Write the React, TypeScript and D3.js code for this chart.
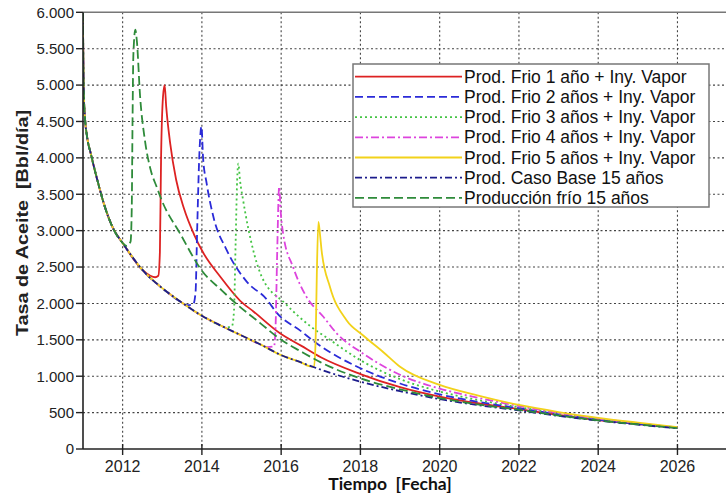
import React from 'react';
import * as d3 from 'd3';

type Pt = [number, number];

// Y axis ticks (Bbl/día) and their labels
const yTickValues = [0, 500, 1000, 1500, 2000, 2500, 3000, 3500, 4000, 4500, 5000, 5500, 6000];
const yTickLabels = ['0', '500', '1.000', '1.500', '2.000', '2.500', '3.000', '3.500', '4.000', '4.500', '5.000', '5.500', '6.000'];
// X axis ticks (years)
const xTickYears = [2012, 2014, 2016, 2018, 2020, 2022, 2024, 2026];

// Common early decline shared by every case (year, rate)
const commonDecline: Pt[] = [
  [2011.0, 6000], [2011.005, 5500], [2011.02, 4900], [2011.05, 4550], [2011.1, 4300],
  [2011.2, 4050], [2011.35, 3720], [2011.55, 3330], [2011.77, 3020], [2012.0, 2830],
  [2012.5, 2460], [2013.0, 2210],
  [2013.5, 2010], [2014.0, 1830], [2014.5, 1690], [2015.0, 1560], [2015.5, 1430],
  [2016.0, 1290], [2016.5, 1190], [2017.0, 1090], [2018.0, 925], [2019.0, 795],
  [2020.0, 685], [2021.0, 600], [2022.0, 530], [2023.0, 455], [2024.0, 390],
  [2025.0, 335], [2026.0, 285],
];

const frio1Tail: Pt[] = [
  [2012.7, 2380], [2012.82, 2360], [2012.9, 2380], [2012.94, 2700], [2012.97, 4000],
  [2013.02, 4850], [2013.06, 5000], [2013.1, 4700], [2013.2, 4200], [2013.35, 3700],
  [2013.55, 3300], [2013.8, 2950], [2014.03, 2700], [2014.46, 2370], [2014.96, 2040],
  [2015.3, 1890], [2015.97, 1590], [2016.5, 1420], [2017.0, 1260], [2018.0, 1030],
  [2019.0, 850], [2020.0, 720], [2021.0, 625], [2022.0, 548], [2023.0, 467],
  [2024.0, 397], [2025.0, 341], [2026.0, 289],
];

const frio2Tail: Pt[] = [
  [2013.62, 1975], [2013.78, 1985], [2013.84, 2150], [2013.88, 3000], [2013.94, 4100],
  [2013.99, 4430], [2014.03, 4000], [2014.12, 3650], [2014.29, 3190], [2014.62, 2740],
  [2015.13, 2300], [2015.63, 2060], [2015.89, 1870], [2016.5, 1620], [2016.9, 1450],
  [2018.0, 1110], [2019.0, 900], [2020.0, 750], [2021.0, 645], [2022.0, 560],
  [2023.0, 475], [2024.0, 402], [2025.0, 345], [2026.0, 290],
];

const frio3Tail: Pt[] = [
  [2014.62, 1670], [2014.76, 1690], [2014.81, 1900], [2014.85, 2800], [2014.89, 3700],
  [2014.92, 3920], [2014.96, 3700], [2015.04, 3420], [2015.3, 2720], [2015.5, 2380],
  [2016.1, 2000], [2016.73, 1690], [2017.23, 1500], [2018.0, 1220], [2019.0, 960],
  [2020.0, 790], [2021.0, 670], [2022.0, 575], [2023.0, 485], [2024.0, 410],
  [2025.0, 350], [2026.0, 292],
];

const frio4Tail: Pt[] = [
  [2015.65, 1400], [2015.82, 1410], [2015.86, 1700], [2015.9, 2700], [2015.95, 3600],
  [2015.99, 3250], [2016.05, 2960], [2016.3, 2500], [2016.64, 2090], [2017.06, 1820],
  [2017.4, 1590], [2018.07, 1310], [2019.0, 1020], [2020.0, 830], [2021.0, 700],
  [2022.0, 590], [2023.0, 495], [2024.0, 418], [2025.0, 355], [2026.0, 295],
];

const frio5Tail: Pt[] = [
  [2016.7, 1140], [2016.83, 1130], [2016.87, 1500], [2016.9, 2400], [2016.94, 3120],
  [2016.98, 2950], [2017.02, 2730], [2017.23, 2230], [2017.65, 1770], [2018.07, 1560],
  [2018.58, 1330], [2019.0, 1130], [2020.0, 880], [2021.0, 730], [2022.0, 605],
  [2023.0, 508], [2024.0, 428], [2025.0, 362], [2026.0, 300],
];

const frio15Tail: Pt[] = [
  [2012.1, 2790], [2012.2, 2850], [2012.23, 3300], [2012.25, 4500], [2012.27, 5400],
  [2012.32, 5760], [2012.36, 5600], [2012.44, 4850], [2012.56, 4250], [2012.7, 3850],
  [2012.86, 3600], [2013.0, 3400], [2013.45, 2960], [2014.0, 2450], [2014.5, 2180],
  [2014.88, 1990], [2015.47, 1730], [2016.0, 1500], [2016.5, 1340], [2017.0, 1190],
  [2018.0, 970], [2019.0, 820], [2020.0, 700], [2021.0, 610], [2022.0, 538],
  [2023.0, 460], [2024.0, 393], [2025.0, 338], [2026.0, 287],
];

const seriesNames = [
  'Prod. Frio 1 año + Iny. Vapor',
  'Prod. Frio 2 años + Iny. Vapor',
  'Prod. Frio 3 años + Iny. Vapor',
  'Prod. Frio 4 años + Iny. Vapor',
  'Prod. Frio 5 años + Iny. Vapor',
  'Prod. Caso Base 15 años',
  'Producción frío 15 años',
];

const withPrefix = (until: number, tail: Pt[]): Pt[] =>
  commonDecline.filter((d) => d[0] <= until).concat(tail);

const seriesData: Pt[][] = [
  withPrefix(2012.5, frio1Tail),
  withPrefix(2013.5, frio2Tail),
  withPrefix(2014.5, frio3Tail),
  withPrefix(2015.5, frio4Tail),
  withPrefix(2016.5, frio5Tail),
  commonDecline,
  withPrefix(2012.0, frio15Tail),
];

const styles = [
  { color: '#dd2222', dash: 'none' },
  { color: '#2b2bd8', dash: '8,4' },
  { color: '#44c444', dash: '2,3' },
  { color: '#dd44dd', dash: '8,3,2,3' },
  { color: '#f2d21a', dash: 'none' },
  { color: '#1c1c8c', dash: '7,3,2,3' },
  { color: '#2e8b3a', dash: '9,4' },
];

const W = 726;
const H = 504;
const left = 83;
const right = 727;
const top = 12.3;
const bottom = 449;

export default function App() {
  const x = d3.scaleLinear().domain([2011, 2027.25]).range([left, right]);
  const y = d3.scaleLinear().domain([0, 6000]).range([bottom, top]);
  const line = d3
    .line<Pt>()
    .x((d) => x(d[0]))
    .y((d) => y(d[1]))
    .curve(d3.curveMonotoneX);

  const legendX = 353;
  const legendY = 64;
  const rowH = 20.2;
  const firstRow = 76.7;

  return (
    <svg
      width={W}
      height={H}
      style={{ position: 'absolute', left: 0, top: 0, background: '#fff' }}
      fontFamily="'Liberation Sans', Arial, sans-serif"
    >
      <defs>
        <clipPath id="plotClip">
          <rect x={left} y={top} width={right - left} height={bottom - top} />
        </clipPath>
      </defs>
      <rect x={0} y={0} width={W} height={H} fill="#fff" />

      {/* grid */}
      {yTickValues.filter((v) => v > 0 && v < 6000).map((v) => (
        <line key={'gy' + v} x1={left} x2={right} y1={y(v)} y2={y(v)}
          stroke="#444" strokeWidth={1.1} strokeDasharray="2,2.5" />
      ))}
      {xTickYears.map((t) => (
        <line key={'gx' + t} x1={x(t)} x2={x(t)} y1={top} y2={bottom}
          stroke="#444" strokeWidth={1.1} strokeDasharray="2,2.5" />
      ))}

      {/* curves */}
      <g clipPath="url(#plotClip)">
        {seriesData.map((data, i) => (
          <path key={'s' + i} d={line(data) || ''} fill="none"
            stroke={styles[i].color} strokeWidth={1.8}
            strokeDasharray={styles[i].dash === 'none' ? undefined : styles[i].dash}
            strokeLinejoin="round" />
        ))}
      </g>

      {/* frame */}
      <line x1={left} x2={right} y1={top} y2={top} stroke="#777" strokeWidth={1.5} />
      <line x1={left} x2={left} y1={top} y2={bottom} stroke="#222" strokeWidth={1.6} />
      <line x1={left} x2={right} y1={bottom} y2={bottom} stroke="#222" strokeWidth={1.6} />

      {/* y ticks */}
      {yTickValues.map((v, i) => (
        <g key={'yt' + v}>
          <line x1={left - 7} x2={left} y1={y(v)} y2={y(v)} stroke="#222" strokeWidth={1.4} />
          <text x={left - 9} y={y(v) + 5.3} textAnchor="end" fontSize={15} fill="#222">
            {yTickLabels[i]}
          </text>
        </g>
      ))}

      {/* x ticks */}
      {xTickYears.map((t) => (
        <g key={'xt' + t}>
          <line x1={x(t)} x2={x(t)} y1={bottom - 5} y2={bottom + 6} stroke="#222" strokeWidth={1.4} />
          <text x={x(t)} y={bottom + 22.5} textAnchor="middle" fontSize={16} fill="#222">
            {t}
          </text>
        </g>
      ))}

      {/* axis titles */}
      <text x={390} y={490} textAnchor="middle" fontSize={17.5} fontWeight="bold"
        fontFamily="Lato, 'Open Sans', sans-serif" fill="#111" style={{ whiteSpace: 'pre' }}>
        {'Tiempo  [Fecha]'}
      </text>
      <text transform="translate(28,223) rotate(-90)" textAnchor="middle" fontSize={16}
        fontWeight="bold" fill="#222" textLength={226} lengthAdjust="spacingAndGlyphs"
        style={{ whiteSpace: 'pre' }}>
        {'Tasa de Aceite  [Bbl/día]'}
      </text>

      {/* legend */}
      <rect x={legendX} y={legendY} width={356} height={143} fill="#fff" stroke="#777" strokeWidth={1.5} />
      {seriesNames.map((name, i) => {
        const ry = firstRow + i * rowH;
        return (
          <g key={'lg' + i}>
            <line x1={355} x2={462} y1={ry} y2={ry} stroke={styles[i].color} strokeWidth={1.8}
              strokeDasharray={styles[i].dash === 'none' ? undefined : styles[i].dash} />
            <text x={464} y={ry + 6} fontSize={17.5} fill="#111">{name}</text>
          </g>
        );
      })}
    </svg>
  );
}
